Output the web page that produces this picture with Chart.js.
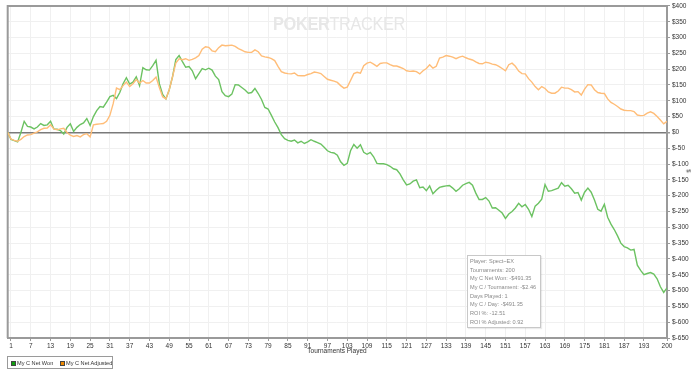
<!DOCTYPE html>
<html><head><meta charset="utf-8">
<script src="https://cdn.jsdelivr.net/npm/chart.js@4/dist/chart.umd.min.js"></script>
<style>
html,body{margin:0;padding:0;background:#fff;}
#wrap{position:relative;width:700px;height:372px;overflow:hidden;font-family:"Liberation Sans",Arial,sans-serif;}
#c{position:absolute;left:0;top:0;}
.wm{position:absolute;left:273px;top:13px;font-size:19px;color:#e7e7e7;white-space:nowrap;letter-spacing:-0.4px;transform:scaleX(0.86);transform-origin:left top;}
.wm b{font-weight:bold;}
.xt{position:absolute;left:287px;width:100px;top:347px;text-align:center;font-size:6.5px;color:#333;}
.yt{position:absolute;left:687px;top:168px;font-size:6px;color:#333;transform:rotate(90deg);}
.info{position:absolute;left:467px;top:255px;width:72px;height:71px;border:1px solid #c8c8c8;background:#fff;box-shadow:1px 1px 1px rgba(0,0,0,0.08);font-size:5.6px;color:#8a8a8a;}
.info div{position:absolute;left:2px;white-space:nowrap;}
.leg{position:absolute;left:7px;top:356px;width:104px;height:11px;border:1px solid #9a9a9a;font-size:5.6px;color:#333;}
.leg span{position:absolute;top:2.5px;white-space:nowrap;}
.sq{position:absolute;top:3.5px;width:3px;height:3px;border:1px solid #444;}
</style></head>
<body><div id="wrap">
<canvas id="c" width="700" height="372"></canvas>
<div class="wm"><b>POKER</b>TRACKER</div>
<div class="xt">Tournaments Played</div>
<div class="yt">$</div>
<div class="info" id="info"></div>
<div class="leg">
 <div class="sq" style="left:3px;background:#10a010"></div><span style="left:9px">My C Net Won</span>
 <div class="sq" style="left:52px;background:#f08a00"></div><span style="left:58px">My C Net Adjusted</span>
</div>
</div>
<script>
const seriesNames = ['My C Net Won', 'My C Net Adjusted'];
const tournaments = Array.from({length: 201}, (_, i) => i);
const xTickLabels = [1,7,13,19,25,31,37,43,49,55,61,67,73,79,85,91,97,103,109,115,121,127,133,139,145,151,157,163,169,175,181,187,193,200];
const netWon = [0,-22,-26,-30,0,35,19,17,11,17,
28,22,24,35,11,10,6,-5,16,27,
3,16,25,30,44,22,50,69,82,80,
96,113,117,107,126,154,173,153,159,176,
148,205,198,197,211,228,154,120,106,135,
176,230,243,224,206,208,195,170,186,202,
198,203,197,178,167,129,116,113,121,151,
150,142,134,124,126,139,123,104,79,74,
54,33,15,-7,-20,-25,-28,-24,-33,-28,
-35,-30,-23,-28,-32,-37,-47,-58,-63,-65,
-72,-93,-104,-98,-58,-38,-50,-39,-63,-69,
-63,-77,-98,-99,-99,-102,-107,-115,-118,-131,
-150,-166,-163,-154,-150,-175,-173,-184,-169,-194,
-183,-174,-171,-169,-168,-176,-186,-178,-167,-162,
-158,-167,-192,-212,-212,-206,-217,-239,-238,-246,
-255,-272,-258,-250,-239,-224,-235,-228,-243,-266,
-233,-224,-211,-165,-186,-184,-180,-176,-159,-170,
-167,-178,-192,-190,-214,-189,-176,-189,-214,-243,
-249,-227,-268,-290,-307,-327,-350,-361,-365,-372,
-370,-420,-436,-450,-446,-443,-448,-463,-488,-506,
-491.35];
const netAdjusted = [0,-21,-25,-28,-22,-13,-8,-7,-2,2,
9,13,14,24,11,8,11,13,0,-9,
-13,-10,-14,-7,-4,-14,24,26,27,28,
35,54,91,140,135,148,159,145,154,167,
156,164,156,156,164,175,142,113,106,135,
176,219,233,230,233,228,231,236,243,263,
271,269,258,255,268,276,274,275,276,272,
265,260,255,253,253,261,255,242,239,237,
233,227,209,192,188,186,185,188,180,179,
179,183,186,191,189,186,177,168,165,162,
158,148,140,143,164,186,190,187,211,219,
222,216,209,218,220,220,214,210,210,206,
202,195,193,194,192,185,195,202,214,203,
209,235,238,243,241,238,233,238,241,236,
232,229,223,218,217,222,220,216,214,209,
202,195,214,219,209,194,186,185,170,159,
145,135,145,139,128,124,124,131,143,140,
140,135,128,129,118,137,151,150,135,126,
124,123,106,95,89,82,74,70,69,69,
66,55,53,54,61,65,60,50,39,27,
35];
const infoLines = ['Player: Spect~EX','Tournaments: 200','My C Net Won: -$491.35','My C / Tournament: -$2.46','Days Played: 1','My C / Day: -$491.35','ROI %: -12.51','ROI % Adjusted: 0.92'];

const info = document.getElementById('info');
infoLines.forEach((t, k) => { const d = document.createElement('div'); d.textContent = t; d.style.top = (2 + k * 8.67) + 'px'; info.appendChild(d); });

const frame = {
  id: 'frame',
  beforeDatasetsDraw(chart) {
    const a = chart.chartArea, c = chart.ctx;
    c.save(); c.strokeStyle = '#9a9a9a'; c.lineWidth = 2;
    c.beginPath();
    c.moveTo(a.left, a.bottom); c.lineTo(a.left, a.top); c.lineTo(a.right, a.top);
    c.stroke(); c.restore();
  }
};
const fnt = {family: '"Liberation Sans", Arial, sans-serif', size: 6.5};
new Chart(document.getElementById('c'), {
  type: 'line',
  data: {datasets: [
    {label: seriesNames[1], data: netAdjusted.map((v, i) => ({x: tournaments[i], y: v})), borderColor: '#ffbd78', borderWidth: 1.4, pointRadius: 0, tension: 0},
    {label: seriesNames[0], data: netWon.map((v, i) => ({x: tournaments[i], y: v})), borderColor: '#6cc262', borderWidth: 1.4, pointRadius: 0, tension: 0}
  ]},
  options: {
    responsive: false, animation: false, devicePixelRatio: 1,
    layout: {padding: {left: 7.7, top: 4, right: 0, bottom: 0}},
    plugins: {legend: {display: false}, tooltip: {enabled: false}},
    scales: {
      x: {type: 'linear', min: 0, max: 200,
        afterBuildTicks: s => { s.ticks = xTickLabels.map(v => ({value: v})); },
        afterFit: s => { s.height = 34; },
        ticks: {font: fnt, color: '#333', padding: 1, maxRotation: 0, autoSkip: false, callback: v => String(v)},
        grid: {color: '#f0f0f0', tickColor: '#9a9a9a', tickLength: 3},
        border: {color: '#9a9a9a', width: 2}},
      y: {position: 'right', min: -650, max: 400,
        afterFit: s => { s.width = 33; },
        ticks: {stepSize: 50, font: fnt, color: '#333', padding: 2, autoSkip: false, callback: v => '$' + v},
        grid: {color: c => c.tick && c.tick.value === 0 ? '#7a7a7a' : '#f0f0f0', lineWidth: c => c.tick && c.tick.value === 0 ? 1.5 : 1, tickColor: '#9a9a9a', tickLength: 3},
        border: {color: '#9a9a9a', width: 2}}
    }
  },
  plugins: [frame]
});
</script>
</body></html>
